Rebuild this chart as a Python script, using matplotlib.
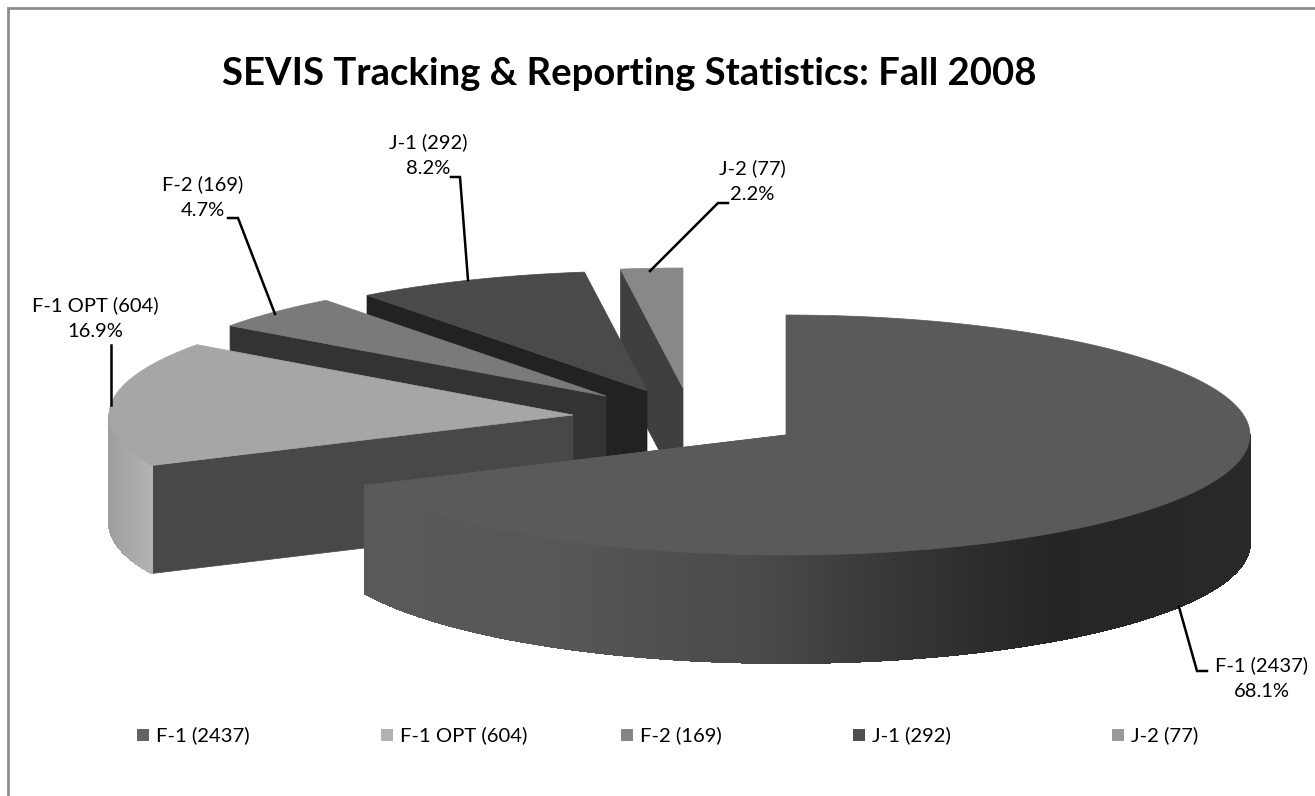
import numpy as np
import matplotlib
matplotlib.use("Agg")
import matplotlib.pyplot as plt
from matplotlib.collections import PolyCollection
from matplotlib.patches import Polygon

plt.rcParams['font.family'] = ['Lato', 'DejaVu Sans']

labels = ["F-1", "F-1 OPT", "F-2", "J-1", "J-2"]
counts = [2437, 604, 169, 292, 77]
title = "SEVIS Tracking & Reporting Statistics: Fall 2008"

# colours of each slice
top_colors = ["#5a5a5a", "#a6a6a6", "#7a7a7a", "#4a4a4a", "#888888"]
face_colors = ["#585858", "#484848", "#333333", "#222222", "#3f3f3f"]
legend_colors = ["#636363", "#b2b2b2", "#858585", "#505050", "#9a9a9a"]

# layout in pixels, y going down
apex_x = [786, 573, 606, 647, 683]
apex_y = [435, 415, 396, 391, 388]
rx, ry, depth = 464, 120, 108

total = sum(counts)
ends = np.cumsum(counts) / total * 360
starts = np.concatenate([[0], ends[:-1]])

fig = plt.figure(figsize=(13.15, 7.96), dpi=100)
ax = fig.add_axes([0, 0, 1, 1])
ax.set_xlim(0, 1315)
ax.set_ylim(796, 0)
ax.axis("off")


def rim(cx, cy, deg):
    t = np.radians(deg)
    return cx + rx * np.sin(t), cy - ry * np.cos(t)


def wall_shade(i, x):
    # outer wall gets darker to the right
    if i == 0:
        return np.interp(x, [365, 560, 760, 905, 1050, 1250], [0.35, 0.34, 0.29, 0.21, 0.145, 0.16])
    return np.interp(x, [108, 150], [0.62, 0.70])


# back slices first so the front ones cover them
for i in range(len(counts) - 1, -1, -1):
    cx, cy = apex_x[i], apex_y[i]

    # the big slice shows its end edge, the others their start edge
    edge = ends[i] if ends[i] - starts[i] > 180 else starts[i]
    ex, ey = rim(cx, cy, edge)
    ax.add_patch(Polygon([(cx, cy), (ex, ey), (ex, ey + depth), (cx, cy + depth)],
                         closed=True, fc=face_colors[i], ec=face_colors[i], lw=0.5))

    # outer wall, only the front half of the ellipse can be seen
    a0, a1 = max(starts[i], 90), min(ends[i], 270)
    if a1 > a0:
        aa = np.linspace(a0, a1, 300)
        xs, ys = rim(cx, cy, aa)
        quads = []
        cols = []
        for k in range(len(aa) - 1):
            quads.append([(xs[k], ys[k]), (xs[k + 1], ys[k + 1]),
                          (xs[k + 1], ys[k + 1] + depth), (xs[k], ys[k] + depth)])
            g = wall_shade(i, xs[k])
            cols.append((g, g, g))
        ax.add_collection(PolyCollection(quads, facecolors=cols, edgecolors=cols, linewidths=0.8,
                                         antialiaseds=False))

    # top of the slice
    aa = np.linspace(starts[i], ends[i], 200)
    xs, ys = rim(cx, cy, aa)
    pts = [(cx, cy)] + list(zip(xs, ys))
    ax.add_patch(Polygon(pts, closed=True, fc=top_colors[i], ec=top_colors[i], lw=0.5))

# data labels and leader lines
label_x = [1262, 95, 203, 428, 752]
label_y = [678, 318, 197, 155, 181]
leaders = [
    [(1179, 607), (1197, 671), (1207, 671)],
    [(111, 345), (111, 405)],
    [(228, 218), (238, 218), (275, 314)],
    [(451, 177), (460, 177), (468, 280)],
    [(728, 203), (718, 203), (650, 271)],
]
for i in range(len(counts)):
    pct = counts[i] / total * 100
    ax.text(label_x[i], label_y[i], "%s (%d)\n%.1f%%" % (labels[i], counts[i], pct),
            ha="center", va="center", fontsize=14.5, color="black", linespacing=1.6)
    ax.plot([p[0] for p in leaders[i]], [p[1] for p in leaders[i]], color="black", lw=1.8,
            solid_joinstyle="miter")

# legend
legend_x = [143, 387, 627, 859, 1118]
for i in range(len(counts)):
    ax.scatter([legend_x[i]], [735], marker="s", s=85, color=legend_colors[i], linewidths=0)
    ax.text(legend_x[i] + 13, 735, "%s (%d)" % (labels[i], counts[i]), ha="left", va="center",
            fontsize=14.6, color="black")

ax.text(629, 85, title, ha="center", va="baseline", fontsize=27.5, fontweight="bold", color="black")

# chart frame, only top and left are in the picture
ax.plot([8, 8, 1315], [796, 8, 8], color="#8c8c8c", lw=2, solid_joinstyle="miter")

fig.savefig("out.png", dpi=100)
